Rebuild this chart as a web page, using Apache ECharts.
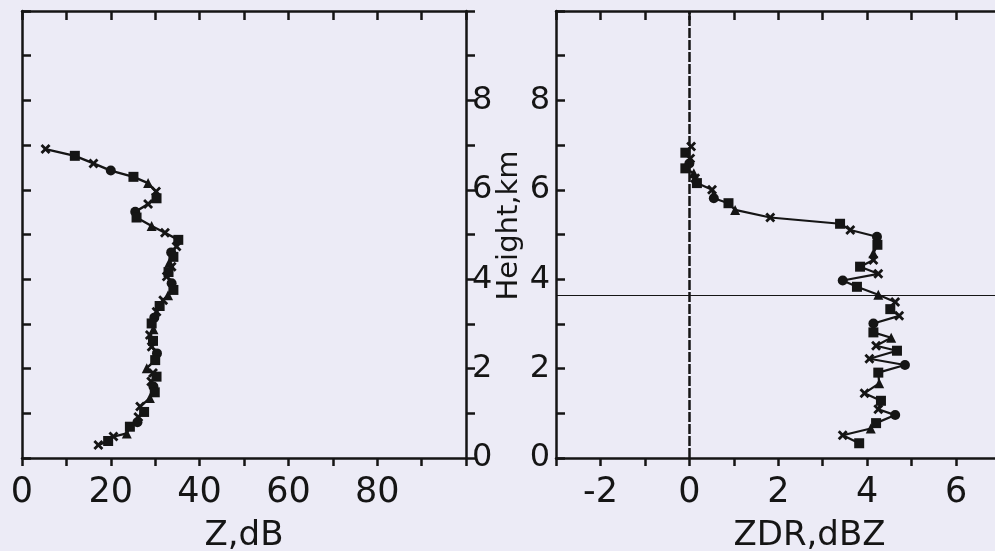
<!DOCTYPE html>
<html>
<head>
<meta charset="utf-8">
<script src="https://cdn.jsdelivr.net/npm/echarts@6.0.0/dist/echarts.min.js"></script>
<style>
html, body { margin: 0; padding: 0; background: #ecebf6; }
#chart { width: 995px; height: 551px; }
</style>
</head>
<body>
<div id="chart"></div>
<script>
// reflectivity profile (left panel) from top to bottom
const zHeight = [6.91, 6.76, 6.59, 6.43, 6.29, 6.15, 5.96, 5.81, 5.68, 5.51, 5.38, 5.19, 5.04, 4.88,
    4.73, 4.60, 4.50, 4.38, 4.28, 4.16, 4.06, 3.91, 3.76, 3.64, 3.53, 3.40, 3.27, 3.14, 3.01, 2.88,
    2.75, 2.62, 2.49, 2.34, 2.19, 2.01, 1.90, 1.82, 1.71, 1.60, 1.47, 1.34, 1.15, 1.03, 0.92, 0.80,
    0.70, 0.55, 0.48, 0.38, 0.29];
const zValue = [5.3, 11.9, 16.1, 20.0, 25.1, 28.4, 30.2, 30.3, 28.4, 25.5, 25.8, 29.2, 32.2, 35.2,
    34.8, 33.6, 34.1, 33.2, 33.7, 33.0, 32.6, 33.7, 34.1, 32.9, 31.8, 31.0, 30.3, 29.8, 29.2, 29.6,
    28.8, 29.5, 29.2, 30.4, 30.0, 28.1, 29.5, 30.3, 29.1, 29.6, 29.9, 28.8, 26.6, 27.5, 26.2, 26.0,
    24.3, 23.6, 20.6, 19.4, 17.2];

// differential reflectivity profile (right panel)
const zdrHeight = [6.97, 6.83, 6.70, 6.59, 6.48, 6.37, 6.26, 6.15, 6.00, 5.81, 5.70, 5.55, 5.38,
    5.24, 5.10, 4.95, 4.77, 4.58, 4.43, 4.28, 4.12, 3.97, 3.83, 3.65, 3.49, 3.33, 3.18, 3.01, 2.81,
    2.69, 2.51, 2.40, 2.22, 2.08, 1.91, 1.67, 1.45, 1.28, 1.09, 0.96, 0.78, 0.66, 0.51, 0.33];
const zdrValue = [0.04, -0.09, 0.02, 0.0, -0.09, 0.10, 0.13, 0.17, 0.51, 0.55, 0.88, 1.03, 1.82,
    3.39, 3.62, 4.22, 4.23, 4.14, 4.14, 3.84, 4.25, 3.45, 3.77, 4.25, 4.63, 4.52, 4.72, 4.14, 4.14,
    4.54, 4.20, 4.67, 4.05, 4.85, 4.25, 4.27, 3.94, 4.31, 4.25, 4.63, 4.20, 4.08, 3.45, 3.82];

const zTicks = [0, 20, 40, 60, 80];
const zdrTicks = [-2, 0, 2, 4, 6];
const heightTicks = [0, 2, 4, 6, 8];
const zdrZero = 0;
const levelHeight = 3.65;

const ink = '#151515';
const crossPath = 'path://M0,2L2,0L5,3L8,0L10,2L7,5L10,8L8,10L5,7L2,10L0,8L3,5Z';
const markers = [crossPath, 'rect', crossPath, 'circle', 'rect', 'triangle'];

function axis(extra) {
    return Object.assign({
        type: 'value',
        axisLine: { show: true, onZero: false, lineStyle: { color: ink, width: 2.5 } },
        axisTick: { show: true, inside: true, length: 9, lineStyle: { color: ink, width: 2.5 } },
        axisLabel: { show: false },
        splitLine: { show: false }
    }, extra);
}

function labels(ticks, size, margin) {
    return {
        show: true, margin: margin, color: ink, fontSize: size,
        fontFamily: 'DejaVu Sans', fontWeight: 'normal',
        formatter: v => ticks.includes(v) ? String(v) : ''
    };
}

const nameStyle = { color: ink, fontSize: 34, fontFamily: 'DejaVu Sans', fontWeight: 'normal' };
const outTick = { show: true, inside: false, length: 8, lineStyle: { color: ink, width: 2.5 } };

const chart = echarts.init(document.getElementById('chart'));
chart.setOption({
    animation: false,
    backgroundColor: '#ecebf6',
    grid: [
        { left: 22, top: 11, width: 444, bottom: 93, outerBoundsMode: 'none', containLabel: false },
        // right panel runs past the edge of the picture (to ZDR = 8)
        { left: 556, top: 11, width: 489, bottom: 93, outerBoundsMode: 'none', containLabel: false }
    ],
    xAxis: [
        axis({ gridIndex: 0, position: 'bottom', min: 0, max: 100, interval: 10,
            axisTick: outTick, axisLabel: labels(zTicks, 35, 17),
            name: 'Z,dB', nameLocation: 'middle', nameGap: 61, nameTextStyle: nameStyle }),
        axis({ gridIndex: 0, position: 'top', min: 0, max: 100, interval: 10 }),
        axis({ gridIndex: 1, position: 'bottom', min: -3, max: 8, interval: 1,
            axisTick: outTick, axisLabel: labels(zdrTicks, 35, 17),
            name: 'ZDR,dBZ', nameLocation: 'middle', nameGap: 61,
            nameTextStyle: Object.assign({ padding: [0, 0, 0, 18] }, nameStyle) }),
        axis({ gridIndex: 1, position: 'top', min: -3, max: 8, interval: 1 })
    ],
    yAxis: [
        axis({ gridIndex: 0, position: 'left', min: 0, max: 10, interval: 1 }),
        axis({ gridIndex: 0, position: 'right', min: 0, max: 10, interval: 1,
            axisTick: Object.assign({}, outTick, { length: 9 }),
            axisLabel: labels(heightTicks, 32, 6) }),
        axis({ gridIndex: 1, position: 'left', min: 0, max: 10, interval: 1,
            axisLabel: labels(heightTicks, 32, 6),
            name: 'Height,km', nameLocation: 'middle', nameRotate: 90, nameGap: 32,
            nameTextStyle: Object.assign({}, nameStyle, { fontSize: 29, padding: [0, 0, 0, 18] }) })
    ],
    series: [
        {
            type: 'line', xAxisIndex: 0, yAxisIndex: 0,
            data: zValue.map((v, i) => [v, zHeight[i]]),
            symbol: (val, p) => markers[p.dataIndex % markers.length],
            symbolSize: 10,
            lineStyle: { color: ink, width: 2.4 },
            itemStyle: { color: ink }
        },
        {
            type: 'line', xAxisIndex: 2, yAxisIndex: 2,
            data: zdrValue.map((v, i) => [v, zdrHeight[i]]),
            symbol: (val, p) => markers[p.dataIndex % markers.length],
            symbolSize: 10,
            lineStyle: { color: ink, width: 2.2 },
            itemStyle: { color: ink },
            markLine: {
                silent: true, symbol: 'none', label: { show: false },
                data: [
                    { xAxis: zdrZero, lineStyle: { color: ink, width: 2.5, type: [10, 2] } },
                    { yAxis: levelHeight, lineStyle: { color: ink, width: 1.2, type: 'solid' } }
                ]
            }
        }
    ]
});
</script>
</body>
</html>
